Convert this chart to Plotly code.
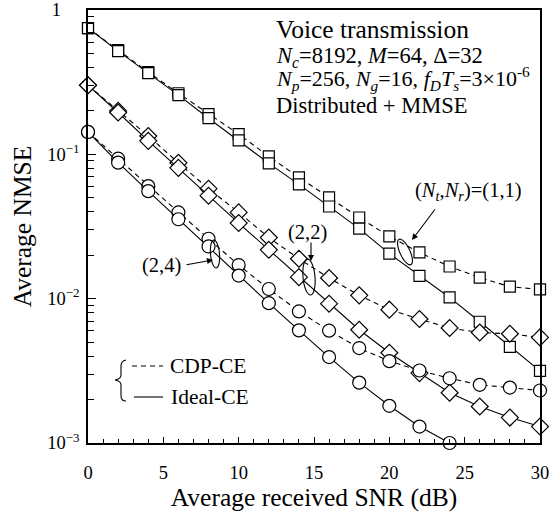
import numpy as np
import plotly.graph_objects as go

# ---------------- data ----------------
snr = [0, 2, 4, 6, 8, 10, 12, 14, 16, 18, 20, 22, 24, 26, 28, 30]
snr_24_ideal = [0, 2, 4, 6, 8, 10, 12, 14, 16, 18, 20, 22, 24]

cdp_11 = [0.750, 0.527, 0.371, 0.265, 0.190, 0.138, 0.0968, 0.0692, 0.0503, 0.0365,
          0.0270, 0.0209, 0.0167, 0.0140, 0.0121, 0.0116]
ideal_11 = [0.750, 0.519, 0.365, 0.257, 0.178, 0.125, 0.0866, 0.0619, 0.0435, 0.0306,
            0.0205, 0.0144, 0.0102, 0.00692, 0.00464, 0.00316]
cdp_22 = [0.301, 0.200, 0.134, 0.0873, 0.0578, 0.0396, 0.0265, 0.0189, 0.0139, 0.01054,
          0.00839, 0.00723, 0.00626, 0.00583, 0.00571, 0.00539]
ideal_22 = [0.301, 0.195, 0.124, 0.0806, 0.0517, 0.0334, 0.0218, 0.0141, 0.00923, 0.00609,
            0.00422, 0.00305, 0.00223, 0.00179, 0.00150, 0.00130]
cdp_24 = [0.1429, 0.0933, 0.0602, 0.0396, 0.0260, 0.0171, 0.01167, 0.00816, 0.00600, 0.00455,
          0.00369, 0.00318, 0.00281, 0.00253, 0.00242, 0.00231]
ideal_24 = [0.1429, 0.0876, 0.0556, 0.0355, 0.0230, 0.01445, 0.00931, 0.00603, 0.00394,
            0.00262, 0.00181, 0.00130, 0.00100]

ytick_vals = [1, 0.1, 0.01, 0.001]
ytick_text = ["1\u2002\u2002", "10<sup>\u22121</sup>", "10<sup>\u22122</sup>", "10<sup>\u22123</sup>"]
xtick_vals = [0, 5, 10, 15, 20, 25, 30]
ytick_minor = [k * 10.0 ** e for e in (-3, -2, -1) for k in range(2, 10)]

# ---------------- layout constants ----------------
W, H = 559, 515
L, R, T, B = 88, 19, 10, 72
PW, PH = W - L - R, H - T - B
FONT = "Liberation Serif, Times New Roman, Times, DejaVu Serif, serif"


def px(xp):
    return (xp - L) / PW


def py(yp):
    return (H - B - yp) / PH


fig = go.Figure()

series = [
    (snr, cdp_11, "dash", "square", 11),
    (snr, ideal_11, "solid", "square", 11),
    (snr, cdp_22, "dash", "diamond", 13),
    (snr, ideal_22, "solid", "diamond", 13),
    (snr, cdp_24, "dash", "circle", 13),
    (snr_24_ideal, ideal_24, "solid", "circle", 13),
]
for xs, ys, dash, sym, sz in series:
    fig.add_trace(go.Scatter(
        x=xs, y=ys, mode="lines+markers",
        line=dict(color="black", width=1.1, dash="5px,4px" if dash == "dash" else "solid"),
        marker=dict(symbol=sym, size=sz, color="white", line=dict(color="black", width=1.2)),
        cliponaxis=False, showlegend=False,
    ))

shapes = []


def ellipse(cx, cy, a, b, tilt_deg):
    t = np.linspace(0, 2 * np.pi, 40)
    th = np.radians(tilt_deg)
    xs = a * np.cos(t)
    ys = b * np.sin(t)
    xr = cx + xs * np.cos(th) + ys * np.sin(th)
    yr = cy - xs * np.sin(th) + ys * np.cos(th)
    pts = [f"{px(x):.5f},{py(y):.5f}" for x, y in zip(xr, yr)]
    return "M " + " L ".join(pts) + " Z"


for cx, cy, a, b, tilt in [(405, 252, 5, 14, 25), (309, 277, 6, 18, 5), (215, 254, 4.5, 14, 5)]:
    shapes.append(dict(type="path", xref="paper", yref="paper", path=ellipse(cx, cy, a, b, tilt),
                       line=dict(color="black", width=1.1)))

# legend: brace + lines
brace = (f"M {px(126)},{py(360)} Q {px(121)},{py(361)} {px(121)},{py(366)} "
         f"L {px(121)},{py(375)} Q {px(121)},{py(379)} {px(115)},{py(380)} "
         f"Q {px(121)},{py(381)} {px(121)},{py(385)} "
         f"L {px(121)},{py(396)} Q {px(121)},{py(401)} {px(126)},{py(401)}")
shapes.append(dict(type="path", xref="paper", yref="paper", path=brace,
                   line=dict(color="black", width=1.1)))
shapes.append(dict(type="line", xref="paper", yref="paper", x0=px(132), x1=px(163), y0=py(366), y1=py(366),
                   line=dict(color="black", width=1.1, dash="5px,4px")))
shapes.append(dict(type="line", xref="paper", yref="paper", x0=px(134), x1=px(163), y0=py(397), y1=py(397),
                   line=dict(color="black", width=1.1)))

annotations = []


def text(xp, yp, s, size, xanchor="left"):
    annotations.append(dict(xref="paper", yref="paper", x=px(xp), y=py(yp), text=s, showarrow=False,
                            xanchor=xanchor, yanchor="middle", font=dict(family=FONT, size=size, color="black")))


def arrow(hx, hy, tx, ty):
    annotations.append(dict(xref="paper", yref="paper", x=px(hx), y=py(hy), ax=tx - hx, ay=ty - hy,
                            axref="pixel", ayref="pixel", text="", showarrow=True,
                            arrowhead=2, arrowsize=1.1, arrowwidth=1.1, arrowcolor="black"))


text(274, 29, "Voice transmission", 25.5)
text(274, 57, "<i>N</i><sub><i>c</i></sub>=8192, <i>M</i>=64, \u0394=32", 22.5)
text(274, 79, "<i>N</i><sub><i>p</i></sub>=256, <i>N</i><sub><i>g</i></sub>=16, "
              "<i>f</i><sub><i>D</i></sub><i>T</i><sub><i>s</i></sub>=3\u00d710<sup>-6</sup>", 22)
text(274, 106, "Distributed + MMSE", 22.5)

text(468, 192, "(<i>N</i><sub><i>t</i></sub>,<i>N</i><sub><i>r</i></sub>)=(1,1)", 20.5, "center")
arrow(412, 240, 436, 208)
text(307, 232, "(2,2)", 20.5, "center")
arrow(311, 261, 311, 241)
text(161, 265, "(2,4)", 20.5, "center")
arrow(213, 260, 185, 265)

text(168, 366, "CDP-CE", 21.5)
text(169, 397, "Ideal-CE", 21.5)

fig.update_layout(
    width=W, height=H, margin=dict(l=L, r=R, t=T, b=B, autoexpand=False),
    paper_bgcolor="white", plot_bgcolor="white",
    font=dict(family=FONT, color="black", size=18),
    shapes=shapes, annotations=annotations,
)
fig.update_xaxes(
    range=[0, 30], tickvals=xtick_vals, ticks="inside", ticklen=6, tickwidth=1.2, tickcolor="black",
    minor=dict(dtick=1, ticks="inside", ticklen=4, tickwidth=1, tickcolor="black"),
    showline=True, linecolor="black", linewidth=1.5, mirror=True, showgrid=False, zeroline=False,
    tickfont=dict(family=FONT, size=18.5), ticklabelstandoff=12, automargin=False,
    title=dict(text="Average received SNR (dB)", font=dict(family=FONT, size=25.5), standoff=4),
)
fig.update_yaxes(
    type="log", range=[-3, 0], tickvals=ytick_vals, ticktext=ytick_text,
    ticks="inside", ticklen=8, tickwidth=1.2, tickcolor="black",
    minor=dict(tickvals=ytick_minor, ticks="inside", ticklen=6, tickwidth=1, tickcolor="black", showgrid=False),
    showline=True, linecolor="black", linewidth=1.5, mirror=True, showgrid=False, zeroline=False,
    tickfont=dict(family=FONT, size=18.5), ticklabelstandoff=3, automargin=False,
    title=dict(text="Average NMSE", font=dict(family=FONT, size=25.5), standoff=8),
)

fig.write_html("out.html", config={"displayModeBar": False},
               post_script="document.body.style.margin='0';document.body.style.overflow='hidden';")
